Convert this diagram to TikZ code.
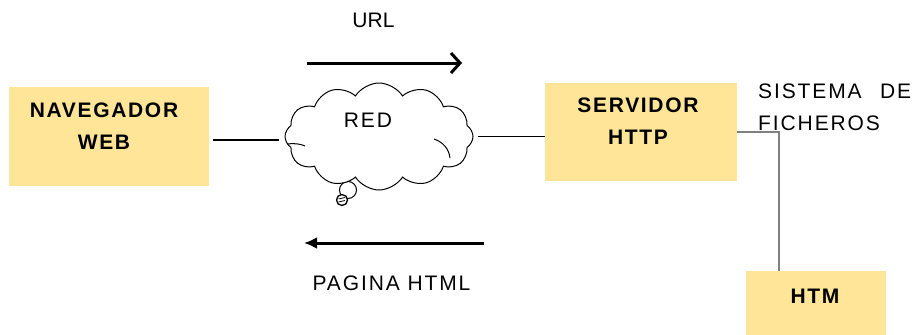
\documentclass[tikz,border=0pt]{standalone}
\usepackage{fontspec}
\setmainfont{Liberation Sans}
\usetikzlibrary{shapes.symbols,arrows.meta}
\definecolor{boxfill}{HTML}{FFE597}
\definecolor{fsline}{HTML}{808080}
\tikzset{
  box/.style={fill=boxfill, draw=none, inner sep=0pt},
  boxlabel/.style={font=\fontsize{21}{32}\selectfont\bfseries\addfontfeature{LetterSpace=8},
    align=center, inner sep=0pt},
  plainlabel/.style={font=\fontsize{21}{32}\selectfont\addfontfeature{LetterSpace=9}, inner sep=0pt},
  link/.style={line width=1.2pt},
  fslink/.style={line width=2.6pt, draw=fsline},
  flow/.style={line width=3pt},
}
\begin{document}
\begin{tikzpicture}[x=1pt, y=-1pt]
  \useasboundingbox (0,0) rectangle (914,335);

  % boxes
  \node[box, minimum width=200pt, minimum height=99pt] (nav) at (109,136.5) {};
  \node[box, minimum width=192pt, minimum height=98pt] (srv) at (641,132) {};
  \node[box, minimum width=140pt, minimum height=66pt] (htm) at (816,304) {};

  \node[boxlabel] (navtxt) at (104,126.5) {NAVEGADOR\\WEB};
  \node[boxlabel] (srvtxt) at (638,121.5) {SERVIDOR\\HTTP};
  \node[boxlabel] (htmtxt) at (815,296.5) {HTM};

  % network cloud with its thought bubbles
  \draw[line width=1pt, fill=white] (348,190) circle (8.5);
  \node[cloud, draw, fill=white, line width=1pt, cloud puffs=12, cloud puff arc=115,
        cloud ignores aspect, minimum width=188pt, minimum height=107pt,
        inner sep=0pt] (net) at (379,136.5) {};
  \draw[line width=1.3pt, fill=white] (342,200) circle (5.5);
  \draw[line width=0.8pt] (338.5,199) -- (345,197.5) (338.5,202) -- (345,200.5);
  % inner strokes of the cloud
  \draw[line width=1pt] (287,144) .. controls (294,143) and (301,144) .. (305,146);
  \draw[line width=1pt] (434,139) .. controls (443,142) and (449,149) .. (450,158);
  \node[plainlabel] (red) at (368,120) {RED};

  % connections
  \draw[link] ([xshift=4pt,yshift=-3.5pt]nav.east) -- ([xshift=-6pt,yshift=-3.5pt]net.west);
  \draw[link] ([xshift=5pt]net.east) -- (net.east -| srv.west);
  \coordinate (bend) at (779,132);
  \draw[fslink] (srv.east) -- (bend) -- (bend |- htm.north);

  % request and response
  \coordinate (urlA) at (307,63);
  \coordinate (urlB) at (462,63);
  \draw[flow, -{Straight Barb[length=9pt,width=20pt,line width=3pt]}] (urlA) -- (urlB);
  \node[plainlabel, font=\fontsize{21}{32}\selectfont] (url) at (373.5,20) {URL};

  \coordinate (pagA) at (484,243);
  \coordinate (pagB) at (304,243);
  \draw[flow, -{Latex[length=13pt,width=12pt]}] (pagA) -- (pagB);
  \node[plainlabel] (pag) at (391.5,283.5) {PAGINA HTML};

  % file system caption
  \node[plainlabel, anchor=base west] (sis) at (758,98) {SISTEMA};
  \node[plainlabel, anchor=base west] (de) at (880,98) {DE};
  \node[plainlabel, anchor=base west] (fich) at (758,130) {FICHEROS};
\end{tikzpicture}
\end{document}
